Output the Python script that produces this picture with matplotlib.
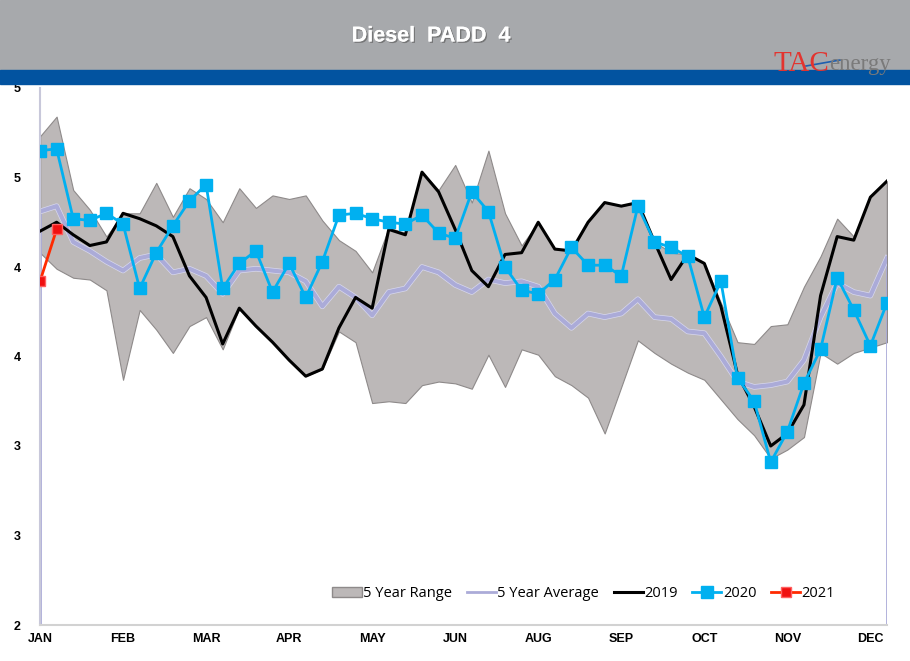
import numpy as np
import matplotlib.pyplot as plt
import matplotlib.patheffects as pe
from matplotlib.patches import Rectangle, Patch
from matplotlib.lines import Line2D

# weekly data, 52 weeks
weeks = np.arange(52)

range_hi = [4.73, 4.84, 4.43, 4.32, 4.17, 4.30, 4.30, 4.47, 4.28, 4.44, 4.38, 4.25, 4.44,
            4.33, 4.40, 4.38, 4.40, 4.26, 4.15, 4.09, 3.97, 4.22, 4.19, 4.53, 4.43, 4.57,
            4.36, 4.65, 4.30, 4.12, 4.25, 4.10, 4.09, 4.25, 4.36, 4.34, 4.36, 4.14, 4.08,
            4.07, 4.02, 3.80, 3.58, 3.57, 3.67, 3.68, 3.89, 4.06, 4.27, 4.17, 4.39, 4.48]
range_lo = [4.08, 3.99, 3.94, 3.93, 3.87, 3.37, 3.76, 3.65, 3.52, 3.67, 3.72, 3.54, 3.77,
            3.67, 3.58, 3.48, 3.39, 3.43, 3.64, 3.58, 3.24, 3.25, 3.24, 3.34, 3.36, 3.35,
            3.32, 3.51, 3.33, 3.54, 3.51, 3.39, 3.34, 3.27, 3.07, 3.33, 3.59, 3.52, 3.46,
            3.41, 3.37, 3.26, 3.15, 3.06, 2.93, 2.98, 3.05, 3.52, 3.46, 3.52, 3.55, 3.58]
avg5 = [4.31, 4.34, 4.14, 4.09, 4.03, 3.98, 4.05, 4.07, 3.97, 3.99, 3.95, 3.85, 3.98,
        3.99, 3.98, 3.97, 3.92, 3.78, 3.89, 3.83, 3.73, 3.86, 3.88, 4.00, 3.97, 3.90,
        3.86, 3.93, 3.91, 3.92, 3.89, 3.74, 3.66, 3.74, 3.72, 3.74, 3.82, 3.72, 3.71,
        3.64, 3.63, 3.50, 3.36, 3.33, 3.34, 3.36, 3.48, 3.72, 3.91, 3.86, 3.84, 4.05]
y2019 = [4.20, 4.25, 4.18, 4.12, 4.14, 4.30, 4.27, 4.23, 4.17, 3.95, 3.83, 3.57, 3.77,
         3.67, 3.58, 3.48, 3.39, 3.43, 3.66, 3.83, 3.77, 4.21, 4.18, 4.53, 4.42, 4.21,
         3.98, 3.89, 4.07, 4.08, 4.25, 4.10, 4.09, 4.25, 4.36, 4.34, 4.36, 4.14, 3.93,
         4.07, 4.02, 3.78, 3.40, 3.22, 3.00, 3.07, 3.23, 3.84, 4.17, 4.15, 4.39, 4.48]
y2020 = [4.65, 4.66, 4.27, 4.26, 4.30, 4.24, 3.88, 4.08, 4.23, 4.37, 4.46, 3.88, 4.02,
         4.09, 3.86, 4.02, 3.83, 4.03, 4.29, 4.30, 4.27, 4.25, 4.24, 4.29, 4.19, 4.16,
         4.42, 4.31, 4.00, 3.87, 3.85, 3.93, 4.11, 4.01, 4.01, 3.95, 4.34, 4.14, 4.11,
         4.06, 3.72, 3.92, 3.38, 3.25, 2.91, 3.08, 3.35, 3.54, 3.94, 3.76, 3.56, 3.80]
y2021 = [3.92, 4.21]

month_ticks = [0, 5, 10, 15, 20, 25, 30, 35, 40, 45, 50]
month_labels = ['JAN', 'FEB', 'MAR', 'APR', 'MAY', 'JUN', 'AUG', 'SEP', 'OCT', 'NOV', 'DEC']
y_ticks = [2.0, 2.5, 3.0, 3.5, 4.0, 4.5, 5.0]
y_labels = ['2', '3', '3', '4', '4', '5', '5']

W, H = 910, 661
fig = plt.figure(figsize=(W / 100, H / 100), dpi=100)

# header bands
fig.patches.append(Rectangle((0, 1 - 70 / H), 1, 70 / H, transform=fig.transFigure,
                             color='#A7A9AC', zorder=0))
fig.patches.append(Rectangle((0, 1 - 84 / H), 1, 14 / H, transform=fig.transFigure,
                             color='#0253A0', zorder=0))
fig.text(431 / W, 1 - 36 / H, 'Diesel  PADD  4', color='white', fontsize=15.5,
         fontweight='bold', family='Liberation Sans', ha='center', va='center',
         path_effects=[pe.withSimplePatchShadow(offset=(1, -1), shadow_rgbFace='#555555', alpha=0.6),
                       pe.Normal()])

# logo
fig.text(774 / W, 1 - 71 / H, 'TAC', color='#E3342F', fontsize=21,
         family='Liberation Serif', ha='left', va='baseline')
fig.text(829 / W, 1 - 70 / H, 'energy', color='#7A7A7A', fontsize=16.5,
         family='Liberation Serif', ha='left', va='baseline')
fig.add_artist(Line2D([806 / W, 840 / W], [1 - 66 / H, 1 - 60 / H], color='#1F5FAF',
                      linewidth=1.2, transform=fig.transFigure))

ax = fig.add_axes([40 / W, 1 - 625 / H, 847 / W, 537 / H])

range_col = '#BCB8B8'
avg_col = '#ABABD8'

ax.fill_between(weeks, range_lo, range_hi, facecolor=range_col, edgecolor='#8E8A8A',
                linewidth=0.8, zorder=1)
ax.vlines([weeks[0], weeks[-1]], [range_lo[0], range_lo[-1]], [range_hi[0], range_hi[-1]],
          color='#8E8A8A', linewidth=1, zorder=1)
ax.vlines([weeks[0], weeks[-1]], 2, [avg5[0], avg5[-1]], color=avg_col, linewidth=2, zorder=2)
ax.plot(weeks, avg5, color=avg_col, linewidth=3, zorder=2,
        path_effects=[pe.Stroke(linewidth=4, foreground='#D8D8EE'), pe.Normal()])
ax.plot(weeks, y2019, color='black', linewidth=2.2, zorder=3)
ax.plot(weeks, y2020, color='#00B0F0', linewidth=2, marker='s', markersize=8, zorder=4)
ax.plot(weeks[:len(y2021)], y2021, color='#FF2A00', linewidth=2, marker='s',
        markersize=7, markerfacecolor='#F01010', markeredgecolor='#FF6060', zorder=5)

ax.set_xlim(0, 51)
ax.set_ylim(2, 5)
ax.set_xticks(month_ticks)
ax.set_xticklabels(month_labels, fontsize=9, fontweight='bold', family='Liberation Sans')
ax.set_yticks(y_ticks)
ax.set_yticklabels(y_labels, fontsize=9, fontweight='bold', family='Liberation Sans')
ax.tick_params(axis='both', length=0)
ax.tick_params(axis='y', pad=14)
ax.tick_params(axis='x', pad=6)
for s in ['top', 'right']:
    ax.spines[s].set_visible(False)
ax.spines['left'].set_color('#C8C8DA')
ax.spines['left'].set_linewidth(1.5)
ax.spines['bottom'].set_color('#D2D2D2')
ax.spines['bottom'].set_linewidth(1.5)

handles = [Patch(facecolor=range_col, edgecolor='#8E8A8A'),
           Line2D([], [], color=avg_col, linewidth=2),
           Line2D([], [], color='black', linewidth=2.2),
           Line2D([], [], color='#00B0F0', linewidth=2, marker='s', markersize=8),
           Line2D([], [], color='#FF2A00', linewidth=2, marker='s', markersize=7,
                  markerfacecolor='#F01010', markeredgecolor='#FF6060')]
labels = ['5 Year Range', '5 Year Average', '2019', '2020', '2021']
ax.legend(handles, labels, loc='center', bbox_to_anchor=(0.642, 0.059), ncol=5,
          frameon=False, prop={'family': 'Open Sans', 'size': 10.5},
          handlelength=2.0, handletextpad=0.1, columnspacing=1.0)

fig.savefig('out.png', dpi=100)
